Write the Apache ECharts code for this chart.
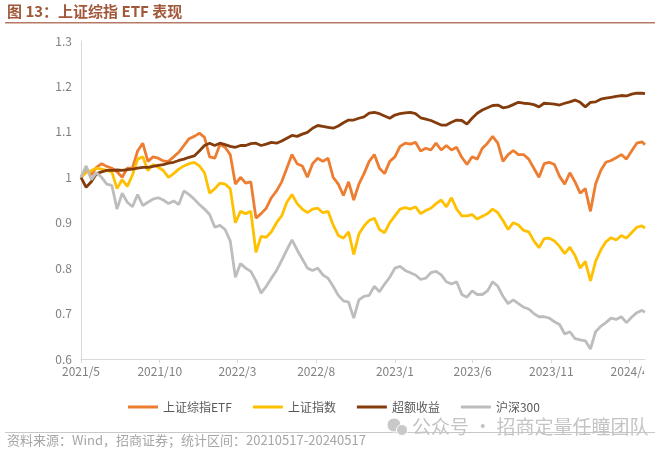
<!DOCTYPE html>
<html>
<head>
<meta charset="utf-8">
<script src="https://cdn.jsdelivr.net/npm/echarts@6/dist/echarts.min.js"></script>
<style>
html,body{margin:0;padding:0;background:#fff;}
#c{width:660px;height:454px;}
</style>
</head>
<body>
<div id="c"></div>
<script>
// x positions: days since 2021-05-17
const days = [
  0,10,20,30,40,50,60,70,80,90,
  100,110,120,130,140,150,160,170,180,190,
  200,210,220,230,240,250,260,270,280,290,
  300,310,320,330,340,350,360,370,380,390,
  400,410,420,430,440,450,460,470,480,490,
  500,510,520,530,540,550,560,570,580,590,
  600,610,620,630,640,650,660,670,680,690,
  700,710,720,730,740,750,760,770,780,790,
  800,810,820,830,840,850,860,870,880,890,
  900,910,920,930,940,950,960,970,980,990,
  1000,1010,1020,1030,1040,1050,1060,1070,1080,1090,
  1096
];
const seriesNames = ['上证综指ETF','上证指数','超额收益','沪深300'];
const etf = [
  1.0,1.02,1.005,1.022,1.03,1.024,1.02,1.012,1.0,1.02,
  1.02,1.058,1.075,1.035,1.045,1.042,1.036,1.035,1.045,1.055,
  1.07,1.085,1.09,1.097,1.088,1.045,1.042,1.072,1.066,1.05,
  0.985,1.0,0.987,0.99,0.91,0.92,0.932,0.955,0.97,0.99,
  1.02,1.05,1.03,1.025,1.0,1.03,1.042,1.035,1.042,1.0,
  0.985,0.96,0.99,0.95,0.985,1.008,1.035,1.05,1.02,1.008,
  1.035,1.045,1.068,1.075,1.073,1.077,1.058,1.064,1.06,1.075,
  1.06,1.07,1.06,1.066,1.044,1.028,1.045,1.04,1.064,1.075,
  1.09,1.075,1.035,1.05,1.059,1.05,1.05,1.04,1.02,1.0,
  1.03,1.033,1.028,1.002,0.985,1.01,0.99,0.965,0.975,0.925,
  0.985,1.015,1.033,1.037,1.043,1.05,1.04,1.058,1.075,1.078,
  1.072
];
const sse = [
  1.0,1.01,1.015,1.02,1.018,1.015,1.012,0.975,0.995,0.98,
  1.005,1.04,1.045,1.015,1.028,1.022,1.015,1.0,1.008,1.018,
  1.025,1.03,1.033,1.025,1.01,0.965,0.975,0.987,0.985,0.975,
  0.9,0.925,0.92,0.925,0.835,0.87,0.868,0.88,0.9,0.915,
  0.945,0.962,0.942,0.93,0.922,0.93,0.932,0.922,0.925,0.895,
  0.872,0.866,0.88,0.83,0.875,0.893,0.905,0.91,0.885,0.878,
  0.9,0.915,0.93,0.933,0.93,0.935,0.92,0.927,0.932,0.942,
  0.95,0.935,0.955,0.93,0.915,0.915,0.918,0.908,0.914,0.92,
  0.93,0.922,0.905,0.885,0.9,0.895,0.883,0.88,0.86,0.845,
  0.865,0.866,0.86,0.848,0.832,0.846,0.828,0.8,0.815,0.772,
  0.815,0.84,0.858,0.867,0.862,0.872,0.866,0.878,0.89,0.893,
  0.888
];
const excess = [
  1.0,0.978,0.99,1.008,1.012,1.015,1.015,1.016,1.015,1.017,
  1.018,1.02,1.022,1.022,1.024,1.026,1.028,1.031,1.033,1.037,
  1.04,1.044,1.047,1.058,1.07,1.075,1.07,1.075,1.072,1.068,
  1.066,1.07,1.07,1.074,1.075,1.07,1.073,1.077,1.075,1.08,
  1.086,1.092,1.09,1.095,1.099,1.108,1.114,1.112,1.11,1.108,
  1.113,1.12,1.126,1.126,1.13,1.133,1.141,1.143,1.14,1.135,
  1.13,1.137,1.14,1.142,1.143,1.14,1.131,1.128,1.125,1.12,
  1.115,1.115,1.121,1.126,1.125,1.117,1.13,1.141,1.148,1.153,
  1.158,1.159,1.153,1.155,1.16,1.165,1.163,1.162,1.16,1.155,
  1.163,1.162,1.161,1.159,1.163,1.166,1.17,1.165,1.155,1.165,
  1.166,1.172,1.174,1.176,1.178,1.18,1.179,1.183,1.185,1.185,
  1.184
];
const hs300 = [
  1.0,1.025,0.995,1.01,1.0,0.985,0.982,0.93,0.965,0.945,
  0.935,0.962,0.938,0.945,0.952,0.955,0.95,0.942,0.948,0.94,
  0.97,0.962,0.952,0.94,0.93,0.918,0.89,0.894,0.885,0.86,
  0.78,0.81,0.8,0.793,0.772,0.745,0.76,0.778,0.795,0.817,
  0.84,0.862,0.84,0.82,0.8,0.795,0.8,0.785,0.778,0.76,
  0.74,0.728,0.725,0.69,0.73,0.738,0.74,0.76,0.748,0.765,
  0.78,0.8,0.804,0.795,0.79,0.785,0.775,0.778,0.79,0.793,
  0.785,0.77,0.765,0.77,0.742,0.736,0.75,0.742,0.742,0.75,
  0.77,0.76,0.738,0.722,0.73,0.722,0.714,0.71,0.7,0.693,
  0.693,0.69,0.682,0.676,0.655,0.66,0.645,0.642,0.64,0.622,
  0.66,0.672,0.68,0.69,0.687,0.693,0.68,0.692,0.702,0.707,
  0.703
];
// x-axis tick positions (days since 2021-05-17) and labels
const tickDays = [0,153,304,457,610,761,914,1066];
const tickLabels = ['2021/5','2021/10','2022/3','2022/8','2023/1','2023/6','2023/11','2024/4'];
const yTicks = ['0.6','0.7','0.8','0.9','1','1.1','1.2','1.3'];

const colors = ['#ED7D31','#FFC000','#843C0C','#BDBDBD'];
const values = [etf, sse, excess, hs300];

const chart = echarts.init(document.getElementById('c'), null, {renderer:'canvas'});
const font = '"Noto Sans CJK SC", "Noto Sans", sans-serif';

chart.setOption({
  animation: false,
  backgroundColor: '#ffffff',
  textStyle: { fontFamily: font },
  grid: { left: 81, right: 15, top: 41, bottom: 95, containLabel: false },
  xAxis: {
    type: 'value',
    min: 0,
    max: 1096,
    axisLine: { show: true, lineStyle: { color: '#d9d9d9', width: 1 } },
    axisTick: { show: true, length: 4, lineStyle: { color: '#d9d9d9' }, customValues: tickDays },
    splitLine: { show: false },
    axisLabel: {
      customValues: tickDays,
      color: '#7f7f7f',
      fontSize: 12,
      fontFamily: font,
      margin: 6,
      formatter: function (v) {
        const i = tickDays.indexOf(Math.round(v));
        return i >= 0 ? tickLabels[i] : '';
      }
    }
  },
  yAxis: {
    type: 'value',
    min: 0.6,
    max: 1.3,
    interval: 0.1,
    axisLine: { show: true, lineStyle: { color: '#d9d9d9', width: 1 } },
    axisTick: { show: false },
    splitLine: { show: false },
    axisLabel: {
      color: '#7f7f7f',
      fontSize: 12,
      fontFamily: font,
      margin: 9,
      formatter: function (v) {
        const i = Math.round((v - 0.6) * 10);
        return yTicks[i] !== undefined ? yTicks[i] : '';
      }
    }
  },
  legend: {
    left: 128,
    top: 401,
    padding: 0,
    itemWidth: 30,
    itemHeight: 3,
    itemGap: 21,
    icon: 'rect',
    textStyle: { color: '#595959', fontSize: 12, fontFamily: font },
    data: seriesNames
  },
  series: seriesNames.map(function (name, k) {
    return {
      name: name,
      type: 'line',
      data: days.map(function (d, i) { return [d, values[k][i]]; }),
      showSymbol: false,
      symbol: 'none',
      lineStyle: { color: colors[k], width: 2.8 },
      itemStyle: { color: colors[k] },
      z: 2
    };
  }),
  graphic: [
    { type: 'text', left: 7, top: 4, style: { text: '图 13：上证综指 ETF 表现', fill: '#a0573a', font: 'bold 15px ' + font } },
    { type: 'rect', shape: { x: 5, y: 22, width: 650, height: 1.5 }, style: { fill: '#b57a65' } },
    { type: 'rect', shape: { x: 644, y: 363, width: 16, height: 22 }, style: { fill: '#ffffff' }, z: 100 },
    { type: 'rect', shape: { x: 5, y: 432, width: 650, height: 1 }, style: { fill: '#c8c8c8' } },
    { type: 'circle', shape: { cx: 394, cy: 425, r: 7 }, style: { fill: '#c8c8c8', stroke: '#ffffff', lineWidth: 1 } },
    { type: 'circle', shape: { cx: 402, cy: 430, r: 5.5 }, style: { fill: '#c8c8c8', stroke: '#ffffff', lineWidth: 1 } },
    { type: 'text', left: 412, top: 417, style: { text: '公众号 · 招商定量任瞳团队', fill: '#c4c4c4', font: '19px ' + font } },
    { type: 'text', left: 7, top: 434, style: { text: '资料来源：Wind，招商证券；统计区间：20210517-20240517', fill: '#a6a6a6', font: '13px ' + font } }
  ]
});
</script>
</body>
</html>
